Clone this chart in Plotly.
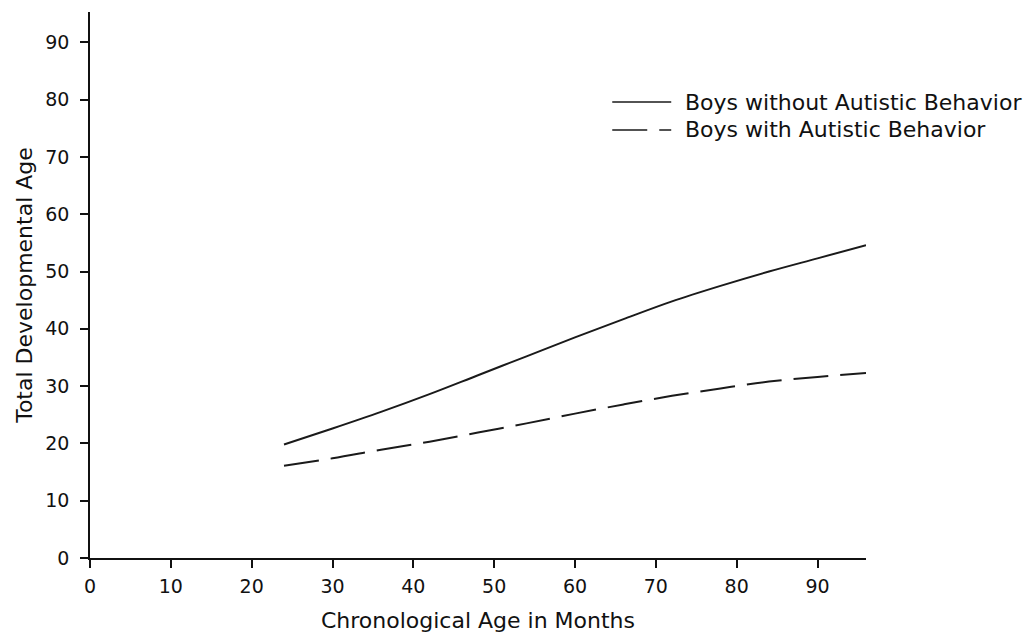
import plotly.graph_objects as go

age_months = [24, 30, 36, 42, 48, 54, 60, 66, 72, 78, 84, 90, 96]
boys_without = [19.8, 22.6, 25.5, 28.6, 31.9, 35.2, 38.5, 41.7, 44.8, 47.5, 50.0, 52.3, 54.6]
boys_with = [16.1, 17.4, 18.9, 20.3, 21.9, 23.5, 25.2, 26.8, 28.3, 29.6, 30.8, 31.6, 32.3]
x_ticks = [0, 10, 20, 30, 40, 50, 60, 70, 80, 90]
y_ticks = [0, 10, 20, 30, 40, 50, 60, 70, 80, 90]
series_names = ["Boys without Autistic Behavior", "Boys with Autistic Behavior"]

FONT = "DejaVu Sans, sans-serif"
DASH = "35px,12px"
INK = "#1a1a1a"

fig = go.Figure()
fig.add_trace(go.Scatter(x=age_months, y=boys_without, mode="lines", line_shape="spline",
                         line=dict(color=INK, width=2), name=series_names[0], showlegend=False))
fig.add_trace(go.Scatter(x=age_months, y=boys_with, mode="lines", line_shape="spline",
                         line=dict(color=INK, width=2, dash=DASH), name=series_names[1], showlegend=False))

# manual legend
rows = [(0.835, "solid"), (0.784, DASH)]
for (yy, dash), name in zip(rows, series_names):
    fig.add_shape(type="line", xref="paper", yref="paper", x0=0.673, x1=0.749, y0=yy, y1=yy,
                  line=dict(color=INK, width=1.5, dash=dash))
    fig.add_annotation(xref="paper", yref="paper", x=0.764, y=yy, text=name, showarrow=False,
                       xanchor="left", yanchor="middle", font=dict(family=FONT, size=22, color="#111"))

fig.update_layout(
    width=1034, height=635,
    margin=dict(l=90, r=168, t=12, b=77),
    paper_bgcolor="white", plot_bgcolor="white",
    font=dict(family=FONT, color="#111"),
    xaxis=dict(range=[0, 96], tickvals=x_ticks, ticks="outside", ticklen=8, tickwidth=1.5,
               tickcolor="#111", showline=True, linecolor="#111", linewidth=1.5,
               showgrid=False, zeroline=False, tickfont=dict(family=FONT, size=19),
               ticklabelstandoff=2, automargin=False,
               title=dict(text="Chronological Age in Months", font=dict(family=FONT, size=22), standoff=17)),
    yaxis=dict(range=[0, 95.3], tickvals=y_ticks, ticks="outside", ticklen=8, tickwidth=1.5,
               tickcolor="#111", showline=True, linecolor="#111", linewidth=1.5,
               showgrid=False, zeroline=False, tickfont=dict(family=FONT, size=19),
               ticklabelstandoff=7, automargin=False,
               title=dict(text="Total Developmental Age", font=dict(family=FONT, size=22), standoff=7)),
)
fig.write_html("out.html")
